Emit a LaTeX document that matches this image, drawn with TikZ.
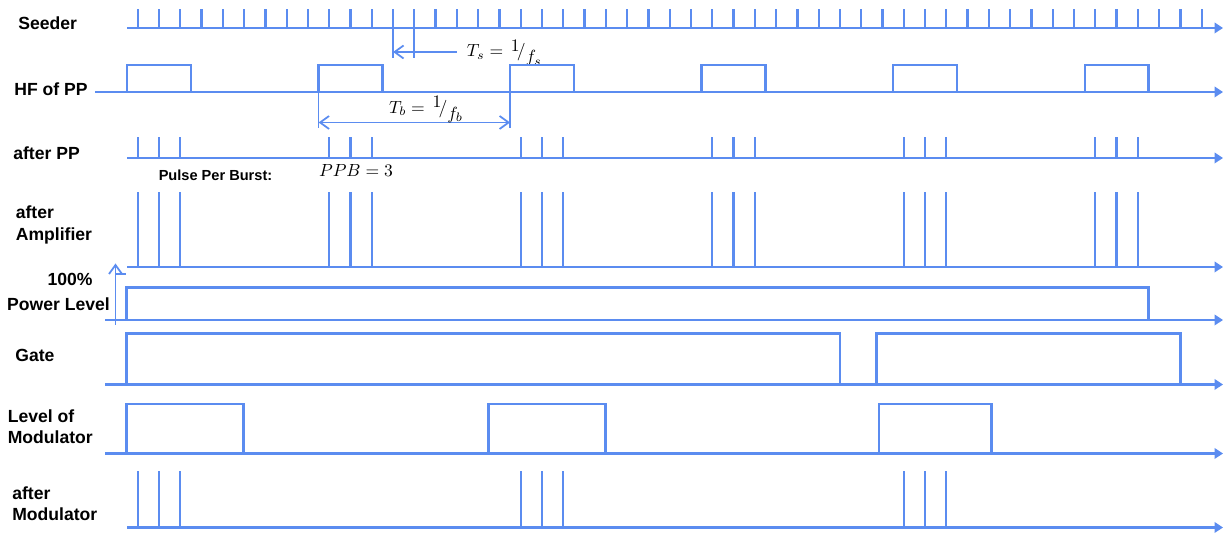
\documentclass[tikz,border=0pt]{standalone}
\usepackage{fontspec}
\setsansfont{Liberation Sans}
\usepackage{tikz}
\usetikzlibrary{arrows.meta}
\definecolor{sigblue}{HTML}{5B8CF0}
\newcommand{\seedT}{0.4256}
\newcommand{\seedO}{2.754}
\tikzset{
  sig/.style={sigblue, line width=1.3pt},
  axisline/.style={sig, -{Triangle[length=1.7mm,width=2.1mm]}},
  dimline/.style={sigblue, line width=1.0pt},
  barb/.tip={Straight Barb[length=1.8mm,width=2.6mm]},
  rowlab/.style={font=\sffamily\bfseries\fontsize{10}{12}\selectfont, anchor=west,
                 align=left, inner sep=0pt},
  smalllab/.style={font=\sffamily\bfseries\fontsize{8.3}{10}\selectfont, inner sep=0pt},
}

\begin{document}
\begin{tikzpicture}[line join=miter]
\useasboundingbox (0,0) rectangle (24.5,10.66);

% ===================== Seeder =====================
\node[rowlab] (seeder) at (0.36,10.20) {Seeder};
\draw[axisline] (2.54,10.10) -- (24.46,10.10);
\foreach \k in {0,...,50}
  \draw[sig] ({\seedO+\k*\seedT},10.10) -- ++(0,0.38);

% ---- seeder period ----
\draw[dimline] ({\seedO+12*\seedT},10.10) -- ++(0,-0.60);
\draw[dimline] ({\seedO+13*\seedT},10.10) -- ++(0,-0.60);
\coordinate (tsa) at ({\seedO+12*\seedT},9.62);
\coordinate (tsb) at (9.13,9.62);
\draw[dimline, -barb] (tsb) -- (tsa);
\node[anchor=west, inner sep=0pt] (tslab) at (9.33,9.60)
  {$T_s = \,\raisebox{0.7ex}{$1$}\!/\raisebox{-0.8ex}{$f_s$}$};

% ===================== HF of PP =====================
\node[rowlab] (hfpp) at (0.28,8.87) {HF of PP};
\draw[axisline] (1.90,8.82) -- (24.46,8.82);
\foreach \j in {0,...,5}
  \draw[sig] ({\seedO-0.5*\seedT+9*\j*\seedT},8.82) -- ++(0,0.54)
             -- ++({3*\seedT},0) -- ++(0,-0.54);

% ---- burst period ----
\draw[dimline] ({\seedO-0.5*\seedT+9*\seedT},8.82) -- ++(0,-0.72);
\draw[dimline] ({\seedO-0.5*\seedT+18*\seedT},8.82) -- ++(0,-0.72);
\coordinate (tba) at ({\seedO-0.5*\seedT+9*\seedT},8.21);
\coordinate (tbb) at ({\seedO-0.5*\seedT+18*\seedT},8.21);
\draw[dimline, barb-barb] (tba) -- (tbb);
\node[inner sep=0pt] (tblab) at (8.52,8.47)
  {$T_b = \,\raisebox{0.7ex}{$1$}\!/\raisebox{-0.8ex}{$f_b$}$};

% ===================== after PP =====================
\node[rowlab] (afterpp) at (0.26,7.59) {after PP};
\draw[axisline] (2.54,7.50) -- (24.46,7.50);
\foreach \j in {0,...,5}
  \foreach \i in {0,1,2}
    \draw[sig] ({\seedO+(9*\j+\i)*\seedT},7.50) -- ++(0,0.41);
\node[smalllab] (ppblab) at (4.31,7.15) {Pulse Per Burst:};
\node[inner sep=0pt] (ppb) at (7.12,7.24) {$PPB = 3$};

% ===================== after Amplifier =====================
\node[rowlab] (afteramp) at (0.31,6.16) {after\\Amplifier};
\draw[axisline] (2.54,5.32) -- (24.46,5.32);
\foreach \j in {0,...,5}
  \foreach \i in {0,1,2}
    \draw[sig] ({\seedO+(9*\j+\i)*\seedT},5.32) -- ++(0,1.50);

% ===================== Power Level =====================
\node[rowlab, anchor=center] (pct) at (1.40,5.08) {100\%};
\node[rowlab, anchor=center] (power) at (1.17,4.58) {Power Level};
\draw[axisline] (2.10,4.26) -- (24.46,4.26);
\draw[sig] (2.53,4.26) |- (22.97,4.91) -- (22.97,4.26);
\coordinate (pwbot) at (2.31,4.16);
\coordinate (pwtop) at (2.31,5.39);
\draw[dimline, -barb] (pwbot) -- (pwtop);
\draw[dimline] (2.31,5.18) -- (2.52,5.18);

% ===================== Gate =====================
\node[rowlab] (gate) at (0.30,3.56) {Gate};
\draw[axisline] (2.10,2.97) -- (24.46,2.97);
\draw[sig] (2.53,2.97) |- (16.80,3.99) -- (16.80,2.97);
\draw[sig] (17.53,2.97) |- (23.61,3.99) -- (23.61,2.97);

% ===================== Level of Modulator =====================
\node[rowlab] (levmod) at (0.15,2.12) {Level of\\Modulator};
\draw[axisline] (2.10,1.59) -- (24.46,1.59);
\draw[sig] (2.53,1.59) |- (4.87,2.58) -- (4.87,1.59);
\draw[sig] (9.77,1.59) |- (12.11,2.58) -- (12.11,1.59);
\draw[sig] (17.58,1.59) |- (19.83,2.58) -- (19.83,1.59);

% ===================== after Modulator =====================
\node[rowlab] (aftermod) at (0.24,0.59) {after\\Modulator};
\draw[axisline] (2.54,0.11) -- (24.46,0.11);
\foreach \j in {0,2,4}
  \foreach \i in {0,1,2}
    \draw[sig] ({\seedO+(9*\j+\i)*\seedT},0.11) -- ++(0,1.13);

\end{tikzpicture}
\end{document}
